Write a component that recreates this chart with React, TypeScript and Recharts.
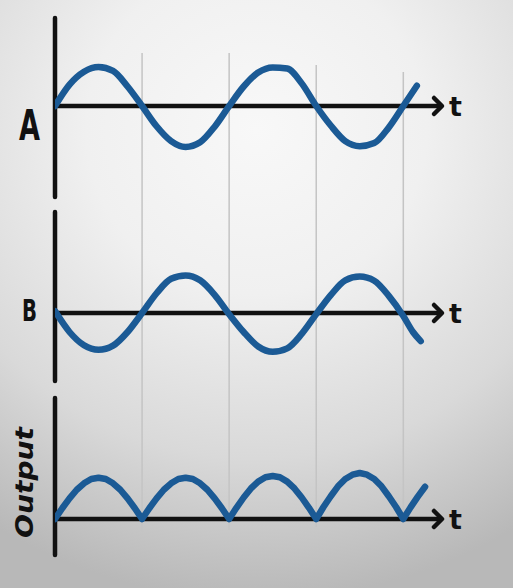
import React from 'react';
import { LineChart, Line, XAxis, YAxis, ReferenceLine, ReferenceDot } from 'recharts';

const W = 513;
const H = 588;

// phase in degrees (x) and signal levels
const degA = [0, 30, 60, 90, 120, 150, 180, 210, 240, 270, 300, 330, 360, 390, 420, 450, 480, 510, 540, 570, 600, 630, 660, 690, 720, 748];
const signalA = [0, 0.55, 0.88, 1.0, 0.9, 0.5, 0, -0.52, -0.9, -1.05, -0.93, -0.53, 0, 0.5, 0.86, 0.99, 0.96, 0.58, 0, -0.5, -0.9, -1.03, -0.95, -0.55, 0, 0.52];

const degB = [0, 30, 60, 90, 120, 150, 180, 210, 240, 270, 300, 330, 360, 390, 420, 450, 480, 510, 540, 570, 600, 630, 660, 690, 720, 740, 756];
const signalB = [0.05, -0.5, -0.85, -0.97, -0.86, -0.5, 0, 0.52, 0.9, 0.99, 0.86, 0.48, -0.03, -0.5, -0.88, -1.02, -0.93, -0.55, -0.03, 0.47, 0.86, 0.96, 0.85, 0.45, -0.08, -0.5, -0.74];

const degC = [0, 15, 30, 45, 60, 75, 90, 105, 120, 135, 150, 165, 180,
  195, 210, 225, 240, 255, 270, 285, 300, 315, 330, 345, 360,
  375, 390, 405, 420, 435, 450, 465, 480, 495, 510, 525, 540,
  555, 570, 585, 600, 615, 630, 645, 660, 675, 690, 705, 720,
  735, 750, 765];
const signalC = [0, 0.25, 0.48, 0.68, 0.83, 0.93, 0.96, 0.93, 0.83, 0.68, 0.48, 0.25, 0,
  0.25, 0.48, 0.68, 0.83, 0.93, 0.96, 0.93, 0.83, 0.68, 0.48, 0.25, 0,
  0.26, 0.5, 0.71, 0.87, 0.97, 1.0, 0.97, 0.87, 0.71, 0.5, 0.26, 0,
  0.28, 0.53, 0.76, 0.93, 1.03, 1.07, 1.03, 0.93, 0.76, 0.53, 0.28, 0,
  0.27, 0.52, 0.75];

const gridDeg = [180, 360, 540, 720];
const gridTopPx = [53, 53, 65, 72];
const gridBottomPx = [532, 530, 527, 523];

// panel layout: pixel row of zero line, pixels per unit, axis extent
const panelA = { zero: 106, ppu: 39, top: 18, bottom: 197 };
const panelB = { zero: 313, ppu: 38, top: 212, bottom: 381 };
const panelC = { zero: 519, ppu: 43, top: 398, bottom: 555 };

const yDom = (p: { zero: number; ppu: number }) => [-(H - p.zero) / p.ppu, p.zero / p.ppu];
const val = (p: { zero: number; ppu: number }, y: number) => (p.zero - y) / p.ppu;

const rowsA = degA.map((t, i) => ({ t, v: signalA[i] }));
const rowsB = degB.map((t, i) => ({ t, v: signalB[i] }));
const rowsC = degC.map((t, i) => ({ t, v: signalC[i] }));

const BLUE = '#1b5a95';
const INK = '#111111';

const Arrow = (props: any) => {
  const { cx, cy } = props;
  return (
    <g>
      <path d={`M${cx - 8},${cy - 8} L${cx},${cy} L${cx - 8},${cy + 8}`} fill="none" stroke={INK} strokeWidth={4.5} strokeLinecap="round" strokeLinejoin="round" />
      <text x={cx + 7} y={cy + 10} fontFamily="DejaVu Sans" fontWeight="bold" fontSize={27} fill={INK}>t</text>
    </g>
  );
};

export default function App() {
  const panels: [string, typeof panelA][] = [['a', panelA], ['b', panelB], ['c', panelC]];
  return (
    <div style={{
      position: 'absolute', left: 0, top: 0, width: W, height: H, overflow: 'hidden',
      background: 'radial-gradient(ellipse 95% 80% at 50% 22%, #f8f8f8 0%, #f0f0f0 35%, #d9d9d9 70%, #b8b8b8 100%)',
    }}>
      <LineChart width={W} height={H} margin={{ top: 0, right: W - 442, bottom: 0, left: 55 }}>
        <XAxis type="number" dataKey="t" domain={[0, 800]} hide allowDataOverflow />
        <YAxis yAxisId="a" type="number" domain={yDom(panelA)} hide allowDataOverflow />
        <YAxis yAxisId="b" type="number" domain={yDom(panelB)} hide allowDataOverflow />
        <YAxis yAxisId="c" type="number" domain={yDom(panelC)} hide allowDataOverflow />
        {gridDeg.map((d, i) => (
          <ReferenceLine key={'g' + d} yAxisId="a" stroke="#c4c4c4" strokeWidth={1.5}
            segment={[{ x: d, y: val(panelA, gridTopPx[i]) }, { x: d, y: val(panelA, gridBottomPx[i]) }]} />
        ))}
        {panels.map(([id, p]) => (
          <ReferenceLine key={'v' + id} yAxisId={id} stroke={INK} strokeWidth={4.5} strokeLinecap="round"
            segment={[{ x: 0, y: val(p, p.top) }, { x: 0, y: val(p, p.bottom) }]} />
        ))}
        {panels.map(([id]) => (
          <ReferenceLine key={'h' + id} yAxisId={id} y={0} stroke={INK} strokeWidth={4.5} />
        ))}
        {panels.map(([id]) => (
          <ReferenceDot key={'d' + id} yAxisId={id} x={800} y={0} r={1} shape={Arrow} />
        ))}
        <Line yAxisId="a" data={rowsA} dataKey="v" type="monotone" stroke={BLUE} strokeWidth={6.5} dot={false} isAnimationActive={false} strokeLinecap="round" strokeLinejoin="round" />
        <Line yAxisId="b" data={rowsB} dataKey="v" type="monotone" stroke={BLUE} strokeWidth={6.5} dot={false} isAnimationActive={false} strokeLinecap="round" strokeLinejoin="round" />
        <Line yAxisId="c" data={rowsC} dataKey="v" type="linear" stroke={BLUE} strokeWidth={6.5} dot={false} isAnimationActive={false} strokeLinecap="round" strokeLinejoin="round" />
      </LineChart>
      <svg width={W} height={H} style={{ position: 'absolute', left: 0, top: 0, pointerEvents: 'none' }}>
        <text x={19} y={140} fontFamily="DejaVu Sans" fontWeight="bold" fontSize={42} textLength={21} lengthAdjust="spacingAndGlyphs" fill={INK}>A</text>
        <text x={22} y={321} fontFamily="DejaVu Sans" fontWeight="bold" fontSize={31} textLength={15} lengthAdjust="spacingAndGlyphs" fill={INK}>B</text>
        <text x={33} y={538} transform="rotate(-90, 33, 538)" fontFamily="DejaVu Sans" fontWeight="bold" fontStyle="italic" fontSize={24} textLength={111} lengthAdjust="spacingAndGlyphs" fill={INK}>Output</text>
      </svg>
    </div>
  );
}
